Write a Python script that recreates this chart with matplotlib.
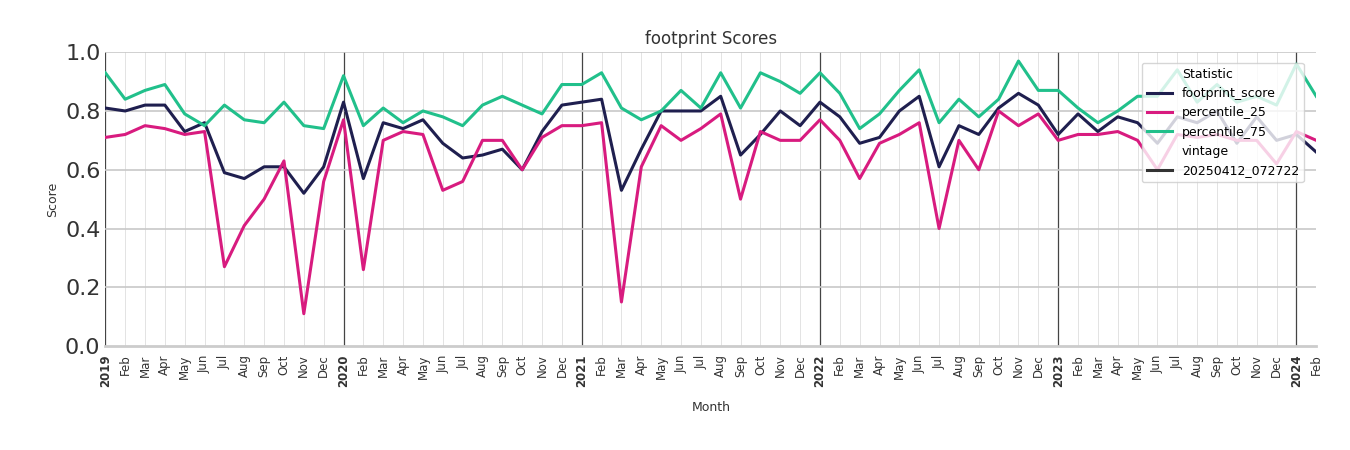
import numpy as np
import pandas as pd
import matplotlib.pyplot as plt
from matplotlib.lines import Line2D

months = pd.date_range("2019-01-01", "2024-02-01", freq="MS")

footprint_score = [
    .81, .80, .82, .82, .73, .76, .59, .57, .61, .61, .52, .61,
    .83, .57, .76, .74, .77, .69, .64, .65, .67, .60, .73, .82,
    .83, .84, .53, .67, .80, .80, .80, .85, .65, .72, .80, .75,
    .83, .78, .69, .71, .80, .85, .61, .75, .72, .81, .86, .82,
    .72, .79, .73, .78, .76, .69, .78, .76, .80, .69, .78, .70,
    .72, .66,
]
percentile_25 = [
    .71, .72, .75, .74, .72, .73, .27, .41, .50, .63, .11, .56,
    .77, .26, .70, .73, .72, .53, .56, .70, .70, .60, .71, .75,
    .75, .76, .15, .61, .75, .70, .74, .79, .50, .73, .70, .70,
    .77, .70, .57, .69, .72, .76, .40, .70, .60, .80, .75, .79,
    .70, .72, .72, .73, .70, .60, .72, .71, .72, .70, .70, .62,
    .73, .70,
]
percentile_75 = [
    .93, .84, .87, .89, .79, .75, .82, .77, .76, .83, .75, .74,
    .92, .75, .81, .76, .80, .78, .75, .82, .85, .82, .79, .89,
    .89, .93, .81, .77, .80, .87, .81, .93, .81, .93, .90, .86,
    .93, .86, .74, .79, .87, .94, .76, .84, .78, .84, .97, .87,
    .87, .81, .76, .80, .85, .85, .94, .83, .89, .83, .85, .82,
    .96, .85,
]

series = [
    ("footprint_score", footprint_score, "#1f1f4f"),
    ("percentile_25", percentile_25, "#d81b7f"),
    ("percentile_75", percentile_75, "#21c08b"),
]

fig = plt.figure(figsize=(13.5, 4.5), dpi=100)
ax = fig.add_axes([0.078, 0.231, 0.897, 0.653])

x = np.arange(len(months))
for name, vals, color in series:
    ax.plot(x, vals, color=color, linewidth=2.2)

# grid: month lines light, year lines dark
for i, m in enumerate(months):
    if m.month == 1:
        ax.axvline(i, color="#444444", linewidth=0.9, zorder=0)
    else:
        ax.axvline(i, color="#e3e3e3", linewidth=0.7, zorder=0)
for yv in [0.2, 0.4, 0.6, 0.8, 1.0]:
    ax.axhline(yv, color="#c8c8c8", linewidth=1.2, zorder=0)

ax.set_xlim(0, len(months) - 1)
ax.set_ylim(0, 1.0)
ax.set_yticks([0, 0.2, 0.4, 0.6, 0.8, 1.0])
ax.set_yticklabels(["0.0", "0.2", "0.4", "0.6", "0.8", "1.0"], fontsize=16, color="#333333")
ax.tick_params(axis="y", length=0)

ax.set_xticks(x)
labels = [str(m.year) if m.month == 1 else m.strftime("%b") for m in months]
ax.set_xticklabels(labels, rotation=90, fontsize=8.5, color="#333333")
for lbl, m in zip(ax.get_xticklabels(), months):
    if m.month == 1:
        lbl.set_fontweight("bold")
ax.tick_params(axis="x", length=0, pad=6)

for s in ["top", "right", "left"]:
    ax.spines[s].set_visible(False)
ax.spines["bottom"].set_color("#cccccc")
ax.spines["bottom"].set_linewidth(2)

ax.set_title("footprint Scores", fontsize=12, color="#333333")
ax.set_xlabel("Month", fontsize=9, color="#333333", labelpad=10)
ax.set_ylabel("Score", fontsize=9, color="#333333")

handles = [Line2D([], [], color="none", label="Statistic")]
handles += [Line2D([], [], color=c, linewidth=2.2, label=n) for n, _, c in series]
handles += [Line2D([], [], color="none", label="vintage"),
            Line2D([], [], color="#333333", linewidth=2.2, label="20250412_072722")]
ax.legend(handles=handles, loc="upper right", fontsize=9, framealpha=0.8,
          handlelength=2, bbox_to_anchor=(0.995, 0.985))

fig.savefig("out.png", dpi=100)
